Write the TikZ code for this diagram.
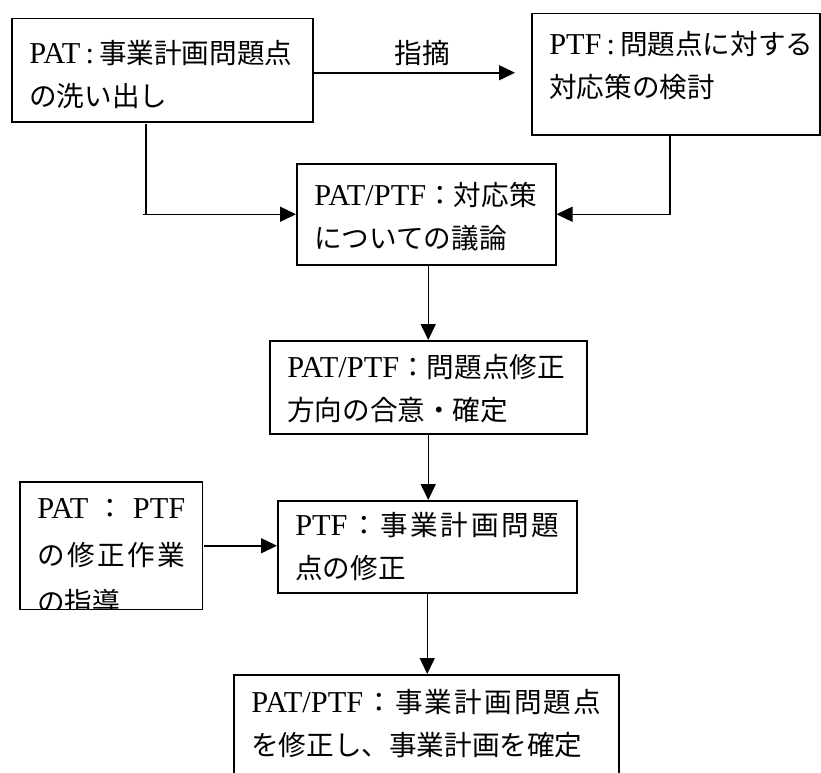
\documentclass[tikz,border=0pt]{standalone}
\usepackage{fontspec}
\setmainfont{Liberation Serif}[Scale=1.1]
\newfontfamily\jp{Noto Sans CJK JP}
\usetikzlibrary{arrows.meta}
\newcommand\en[1]{{\rmfamily #1}}
\newcommand\spread[1]{\makebox[\linewidth][s]{#1}}
\newcommand\jptext{\fontsize{27.6bp}{42.5bp}\selectfont\jp}
\tikzset{
  box/.style={draw, line width=1.5bp, anchor=north west, inner xsep=17.5bp, inner ysep=0pt, align=left, font=\jptext},
  link/.style={line width=1.5bp, -{Triangle[length=16bp, width=15bp]}},
  wire/.style={line width=1.5bp},
}
\begin{document}
\begin{tikzpicture}[x=1bp, y=-1bp]
    \useasboundingbox (0,0) rectangle (821,773);

    \node[box, text width=266bp, text height=45bp, text depth=58bp] (b1) at (11,18) {\en{PAT\,:\,}事業計画問題点\\の洗い出し};
    \node[box, text width=253bp, text height=41bp, text depth=80bp] (b2) at (531,13) {\en{PTF\,:\,}問題点に対する\\対応策の検討};
    \node[box, text width=224bp, text height=42bp, text depth=59bp] (b3) at (296,163) {\en{PAT/PTF}：対応策\\についての議論};
    \node[box, text width=282bp, text height=37bp, text depth=56bp] (b4) at (269,340) {\en{PAT/PTF}：問題点修正\\方向の合意・確定};
    \begin{scope}
        \clip (18.2,480.2) rectangle (202.8,609.8);
        \node[box, text width=148bp, text height=37bp, text depth=91bp, font={\jptext\baselineskip=47bp}] (b5) at (19,481) {\spread{\en{PAT}\hfil ：\hfil \en{PTF}}\\\spread{の\hfil 修\hfil 正\hfil 作\hfil 業}\\の指導};
    \end{scope}
    \node[box, text width=264bp, text height=35bp, text depth=57bp] (b6) at (277,500) {\spread{\en{PTF}\hfil ：\hfil 事\hfil 業\hfil 計\hfil 画\hfil 問\hfil 題}\\点の修正};
    \node[box, text width=350bp, text height=38bp, text depth=90bp] (b7) at (233,674) {\spread{\en{PAT/PTF}\hfil ：\hfil 事\hfil 業\hfil 計\hfil 画\hfil 問\hfil 題\hfil 点}\\を修正し、事業計画を確定};

    \draw[link, shorten >=16bp] ([yshift=-2.5bp]b1.east) -- ([yshift=-2.5bp]b1.east -| b2.west) node[midway, above, inner sep=6bp, font=\jptext] (lab) {指摘};

    \coordinate (k1) at (146,124);
    \draw[wire] (k1) -- (k1 |- b3.west);
    \draw[link] (k1 |- b3.west) ++(-3,0) -- (b3.west);
    \draw[link] ([xshift=-6bp]b2.south) |- (b3.east);

    \draw[link] (b3.south -| b4.north) -- (b4.north);
    \draw[link] (b4.south) -- (b4.south |- b6.north);
    \draw[link] (b5.east) -- (b5.east -| b6.west);
    \draw[link] (b6.south) -- (b6.south |- b7.north);
\end{tikzpicture}
\end{document}
